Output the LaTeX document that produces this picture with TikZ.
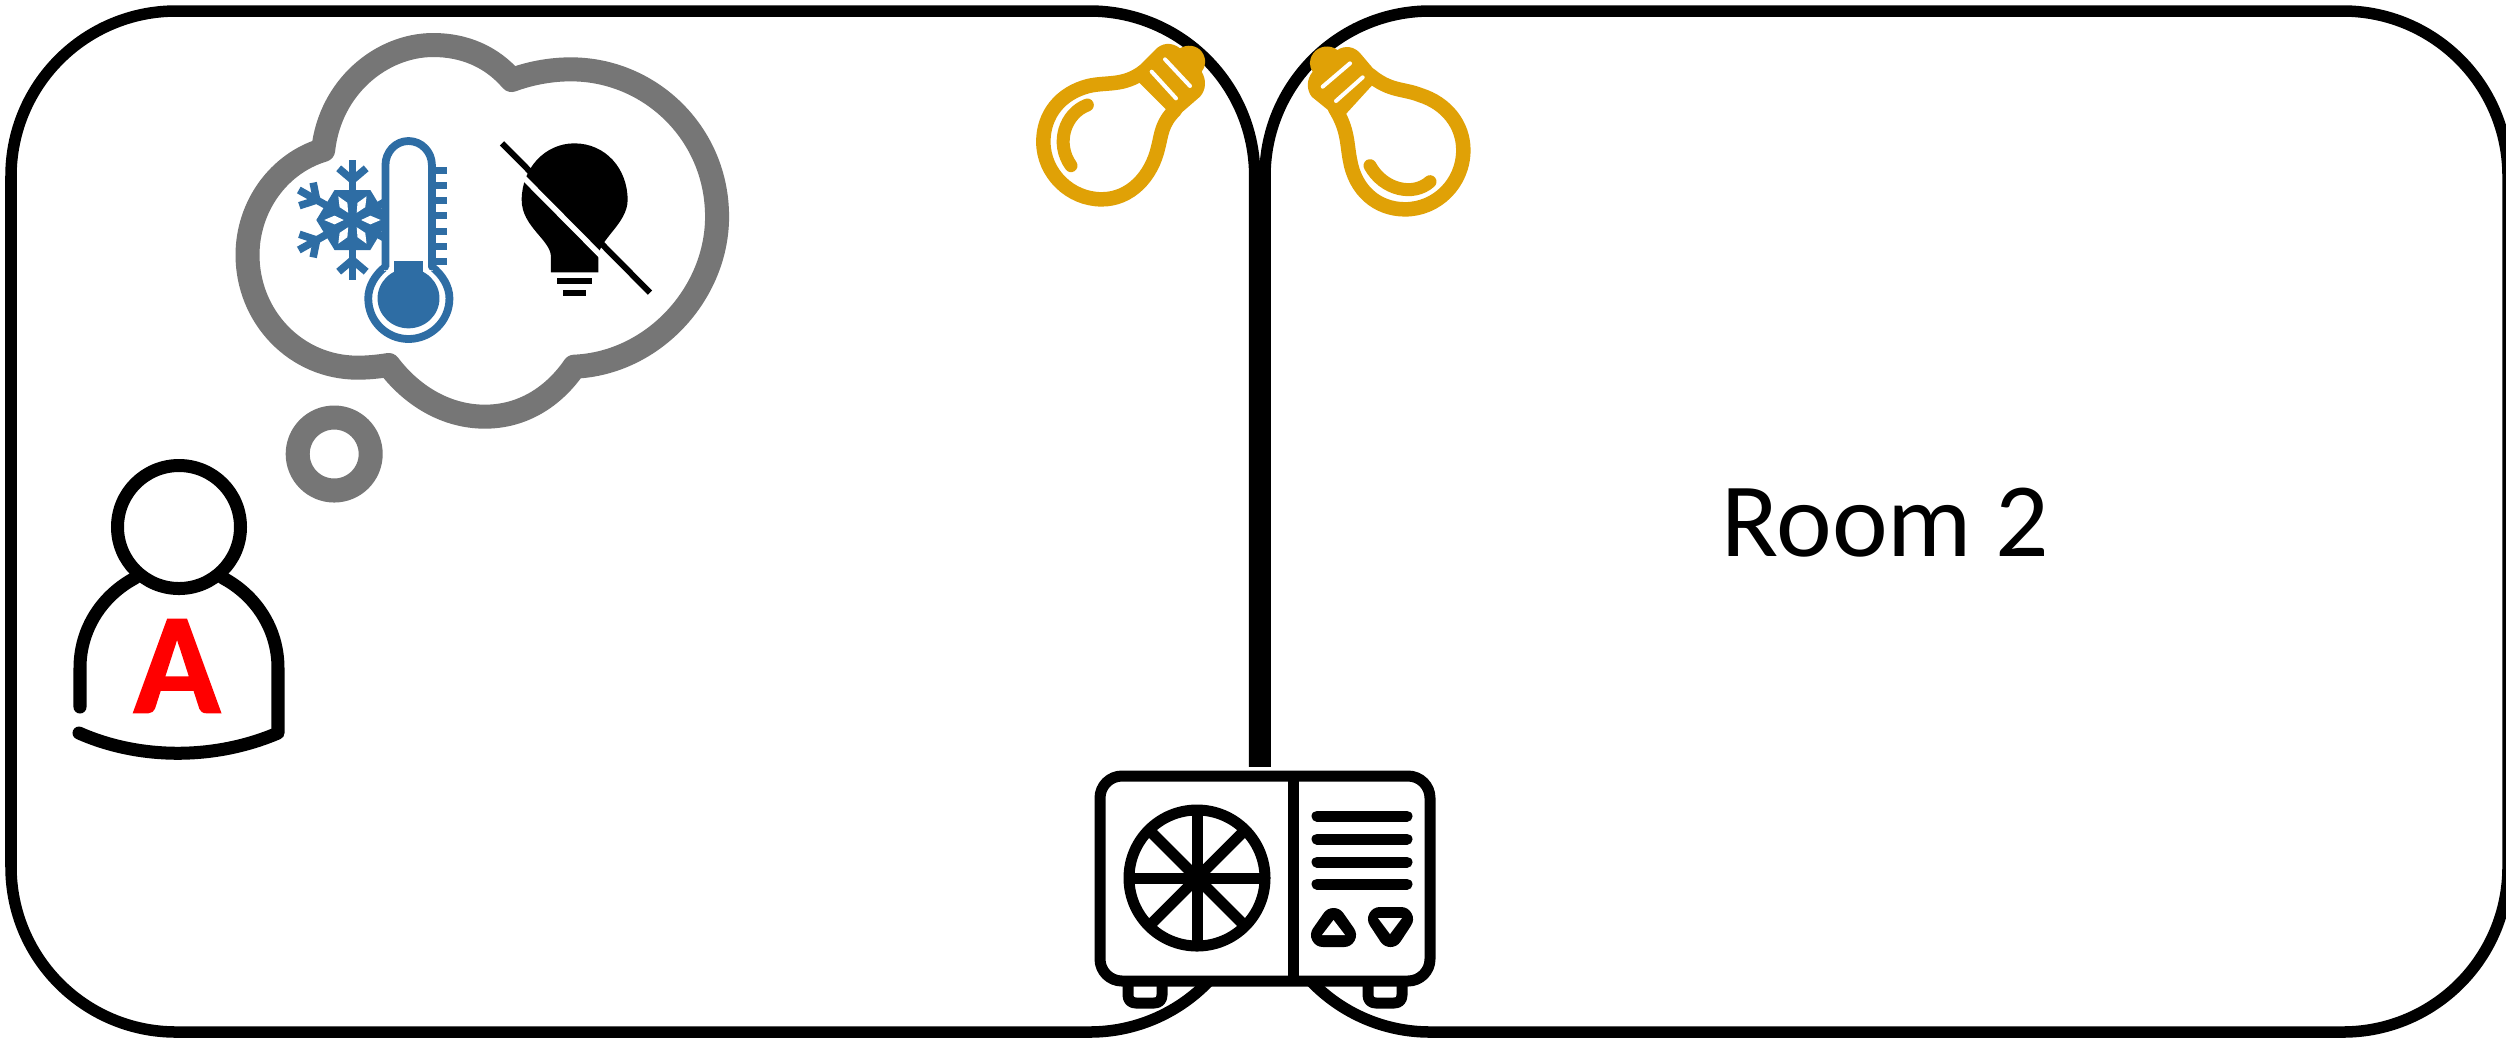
\documentclass[tikz,border=0pt]{standalone}
\usepackage{fontspec}
\setmainfont{Carlito}[BoldFeatures={FakeBold=1.2}]
\definecolor{cloudgrey}{HTML}{767676}
\definecolor{thermoblue}{HTML}{2E6DA4}
\definecolor{bulbgold}{HTML}{E0A106}
\tikzset{
  roomwall/.style={draw=black,line width=0.115cm,rounded corners=1.65cm},
  acline/.style={draw=black,line width=0.11cm,line cap=round,line join=round},
  acblob/.style={draw=black,fill=black,line width=0.24cm,line join=round},
  personline/.style={draw=black,line width=0.13cm,line cap=round,line join=round},
  cloudline/.style={draw=cloudgrey,line width=0.24cm,fill=white,line join=round},
  bulbline/.style={draw=bulbgold,line width=0.145cm,line cap=round,line join=round},
  bulbglow/.style={draw=bulbgold,line width=0.13cm,line cap=round},
  bulbslit/.style={draw=white,line width=0.04cm,line cap=round},
  thermoline/.style={draw=thermoblue,line width=0.078cm,line join=round},
  flakeline/.style={draw=thermoblue,line width=0.075cm},
}
\begin{document}
\begin{tikzpicture}[x=0.01cm,y=-0.01cm]
\useasboundingbox (0,0) rectangle (2506,1038);
\clip (0,0) rectangle (2506,1038);
\fill[white] (0,0) rectangle (2506,1038);
% rooms
\draw[roomwall] (11,11) rectangle (1254.7,1032);
\draw[roomwall] (1265,11) rectangle (2508,1032);
% AC unit
\fill[white] (1094,767) rectangle (1436,986);
\draw[acline,fill=white] (1128,986) -- (1128,995) .. controls (1128,1000) and (1131,1003) .. (1136,1003) -- (1154,1003) .. controls (1159,1003) and (1162,1000) .. (1162,995) -- (1162,986);
\draw[acline,fill=white] (1368,986) -- (1368,995) .. controls (1368,1000) and (1371,1003) .. (1376,1003) -- (1394,1003) .. controls (1399,1003) and (1402,1000) .. (1402,995) -- (1402,986);
\draw[acline,fill=white,rounded corners=0.22cm] (1100,776) rectangle (1430,981);
\draw[acline,line cap=butt] (1293,776) -- (1293,981);
\draw[acline] (1197,878) circle (68);
\draw[acline,line cap=butt] (1129,878) -- (1265,878);
\draw[acline,line cap=butt] (1197,810) -- (1197,946);
\draw[acline,line cap=butt] (1149,830) -- (1245,926);
\draw[acline,line cap=butt] (1149,926) -- (1245,830);
\foreach \yy in {816,839,862,884}{\draw[acline] (1317,\yy) -- (1407,\yy);}
\draw[acblob] (1333.5,920) -- (1344,935) -- (1323,935) -- cycle;
\fill[white] (1333.5,920) -- (1345,935) -- (1322,935) -- cycle;
\draw[acblob] (1380,919) -- (1401,919) -- (1390.5,935) -- cycle;
\fill[white] (1378,918) -- (1402,918) -- (1390,934) -- cycle;
% room label
\node[inner sep=0pt,font=\fontsize{30}{36}\selectfont] (roomtwo) at (1885.5,523) {Room 2};
% person
\draw[personline] (179,527) circle (61.5);
\draw[personline] (80,707) -- (80,668) .. controls (80,628) and (103,595) .. (135,578);
\draw[personline] (223,578) .. controls (255,595) and (278,628) .. (278,668) -- (278,733) .. controls (215,760) and (140,760) .. (79,733);
\node[inner sep=0pt,text=red,font=\fontsize{40.7}{48}\selectfont\bfseries] (persona) at (177,666) {A};
% thought bubble
\draw[cloudline] (334.2,454) circle (36.5);
% cloud and its icons
\begin{scope}[shift={(220,0)},xscale=0.344,yscale=1/3]
\draw[cloudline] (300,450) .. controls (320,260) and (470,135) .. (620,135) .. controls (710,135) and (790,170) .. (848,240)
 .. controls (900,220) and (960,208) .. (1020,208) .. controls (1250,208) and (1445,400) .. (1445,650) .. controls (1445,880) and (1260,1090) .. (1030,1100)
 .. controls (970,1190) and (880,1250) .. (770,1250) .. controls (660,1250) and (560,1190) .. (490,1095)
 .. controls (460,1100) and (430,1103) .. (400,1103) .. controls (220,1103) and (80,950) .. (80,765) .. controls (80,620) and (170,490) .. (300,450) -- cycle;
\begin{scope}[shift={(385,660)}]
\fill[thermoblue] (-105,0) -- (-52,-90) -- (52,-90) -- (105,0) -- (52,90) -- (-52,90) -- cycle;
\foreach \a in {0,60,...,300}{
  \begin{scope}[rotate=\a]
  \fill[white] (25,0) -- (52,-13) -- (82,0) -- (52,13) -- cycle;
  \end{scope}
}
\foreach \a in {30,90,...,330}{
  \begin{scope}[rotate=\a]
  \draw[flakeline] (0,0) -- (180,0);
  \draw[flakeline] (155,-40) -- (120,0) -- (155,40);
  \end{scope}
}
\end{scope}
\draw[thermoline,fill=white] (481,800) -- (481,495) .. controls (481,456) and (510,423) .. (548,423) .. controls (586,423) and (616,456) .. (616,495) -- (616,800) .. controls (647,825) and (667,860) .. (667,895) .. controls (667,965) and (611,1017) .. (548,1017) .. controls (485,1017) and (431,965) .. (431,895) .. controls (431,860) and (450,825) .. (481,800) -- cycle;
\fill[white] (477,800) rectangle (620,812);
\draw[thermoline,line cap=round] (481,795) -- (481,800);
\draw[thermoline,line cap=round] (616,795) -- (616,800);
\foreach \yy in {510,555,600,647,693,738,785}{\draw[thermoblue,line width=0.07cm] (627,\yy) -- (660,\yy);}
\fill[thermoblue] (548,895) circle (90);
\fill[thermoblue] (507,783) rectangle (590,830);
% crossed bulb
\fill[black] (962,817) -- (962,770) .. controls (962,720) and (877,680) .. (877,600) .. controls (877,505) and (945,430) .. (1030,430) .. controls (1120,430) and (1185,505) .. (1185,600) .. controls (1185,670) and (1100,720) .. (1100,770) -- (1100,817) -- cycle;
\fill[black] (980,835) rectangle (1082,853);
\fill[black] (997,870) rectangle (1065,887);
\draw[white,line width=0.055cm,line cap=butt] (876,526) -- (1115,775);
\draw[black,line width=0.06cm] (820,430) -- (1250,878);
\end{scope}
% left lamp
\begin{scope}[shift={(1000,0)},scale=1/3]
\draw[bulbline] (430,215) .. controls (370,260) and (320,245) .. (265,258) .. controls (180,280) and (130,345) .. (130,425) .. controls (130,520) and (210,598) .. (305,598) .. controls (390,598) and (455,530) .. (475,440) .. controls (485,400) and (485,370) .. (525,330);
\fill[bulbgold] (400,215) -- (465,150) .. controls (485,128) and (515,125) .. (540,145) .. controls (560,132) and (590,135) .. (605,155) .. controls (620,175) and (618,200) .. (605,215) .. controls (620,240) and (618,270) .. (600,290) -- (525,355) -- (415,245) -- cycle;
\draw[bulbslit] (495,178) -- (570,258);
\draw[bulbslit] (455,215) -- (528,295);
\draw[bulbglow] (262,315) .. controls (195,340) and (165,430) .. (213,497);
\end{scope}
% right lamp
\begin{scope}[shift={(1000,0)},scale=1/3]
\draw[bulbline] (1110,225) .. controls (1170,275) and (1210,265) .. (1260,285) .. controls (1340,310) and (1390,375) .. (1390,450) .. controls (1390,550) and (1310,628) .. (1215,628) .. controls (1130,628) and (1065,570) .. (1050,480) .. controls (1040,430) and (1045,390) .. (1005,325);
\fill[bulbgold] (1140,230) -- (1085,165) .. controls (1065,138) and (1035,135) .. (1012,150) .. controls (990,132) and (955,138) .. (940,160) .. controls (925,180) and (928,200) .. (938,215) .. controls (918,240) and (920,270) .. (935,290) -- (1015,355) -- (1035,345) -- cycle;
\draw[bulbslit] (1050,190) -- (968,260);
\draw[bulbslit] (1088,232) -- (1008,303);
\draw[bulbglow] (1110,497) .. controls (1150,570) and (1240,590) .. (1290,545);
\end{scope}
\end{tikzpicture}
\end{document}
